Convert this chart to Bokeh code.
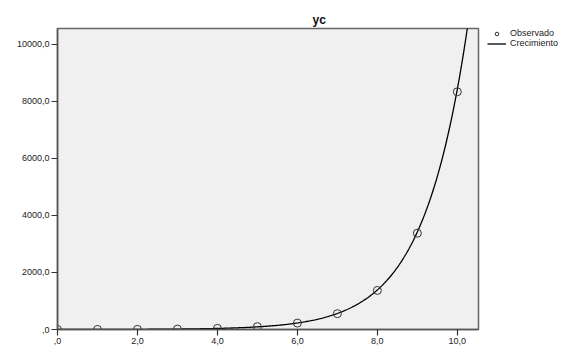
import numpy as np
from bokeh.plotting import figure
from bokeh.models import (ColumnDataSource, Range1d, FixedTicker, LinearAxis,
                          Legend, LegendItem)
from bokeh.embed import file_html
from bokeh.resources import INLINE

# ---- data ----
x_obs = [0, 1, 2, 3, 4, 5, 6, 7, 8, 9, 10]
y_obs = [1, 2.5, 6, 15, 40, 100, 225, 555, 1370, 3380, 8340]
x_ticks = [0, 2, 4, 6, 8, 10]
x_tick_labels = [",0", "2,0", "4,0", "6,0", "8,0", "10,0"]
y_ticks = [0, 2000, 4000, 6000, 8000, 10000]
y_tick_labels = [",0", "2000,0", "4000,0", "6000,0", "8000,0", "10000,0"]
title_text = "yc"
series_names = ["Observado", "Crecimiento"]
x_limits = (0, 10.53)
y_limits = (0, 10560)

# growth model fitted to the observed data: ln(y) = b0 + b1*x
b1, b0 = np.polyfit(np.array(x_obs, float), np.log(np.array(y_obs, float)), 1)
x_fit = np.linspace(x_limits[0], x_limits[1], 400)
y_fit = np.exp(b0 + b1 * x_fit)

FONT = "Liberation Sans"

p = figure(frame_width=421, frame_height=301, output_backend="svg",
           toolbar_location=None,
           x_range=Range1d(*x_limits), y_range=Range1d(*y_limits),
           x_axis_type=None, y_axis_type=None,
           min_border_left=57, min_border_right=73,
           min_border_top=28, min_border_bottom=0)
p.background_fill_color = "#f0f0f0"
p.border_fill_color = "white"
p.outline_line_color = "#666666"
p.outline_line_width = 1.5
p.xgrid.visible = False
p.ygrid.visible = False

# title
p.title.text = title_text
p.title.text_font = FONT
p.title.text_font_size = "12px"
p.title.text_font_style = "bold"
p.title.text_color = "#111111"
p.title.align = "left"
p.title.offset = 255
p.title.standoff = 3

# axes
yax = LinearAxis(ticker=FixedTicker(ticks=y_ticks),
                 major_label_overrides={t: l for t, l in zip(y_ticks, y_tick_labels)})
xax = LinearAxis(ticker=FixedTicker(ticks=x_ticks),
                 major_label_overrides={t: l for t, l in zip(x_ticks, x_tick_labels)})
for ax in (xax, yax):
    ax.axis_line_color = "#555555"
    ax.axis_line_width = 1.5
    ax.major_tick_line_color = "#333333"
    ax.major_tick_line_width = 1.2
    ax.major_tick_in = 0
    ax.major_tick_out = 6
    ax.minor_tick_line_color = None
    ax.major_label_text_font = FONT
    ax.major_label_text_font_size = "9px"
    ax.major_label_text_color = "#222222"
    ax.major_label_standoff = 2
p.add_layout(yax, "left")
p.add_layout(xax, "below")

src_obs = ColumnDataSource(dict(x=x_obs, y=y_obs))
src_fit = ColumnDataSource(dict(x=x_fit, y=y_fit))

r_fit = p.line("x", "y", source=src_fit, line_color="black", line_width=1.3)
r_obs = p.scatter("x", "y", source=src_obs, marker="circle", size=8,
                  fill_color=None, line_color="#333333", line_width=1)

legend = Legend(items=[LegendItem(label=series_names[0], renderers=[r_obs]),
                       LegendItem(label=series_names[1], renderers=[r_fit])],
                location=(9, 281), orientation="vertical",
                label_text_font=FONT, label_text_font_size="9px",
                label_text_color="#222222",
                glyph_width=19, glyph_height=9, label_height=9,
                label_standoff=4, spacing=0, padding=0, margin=0,
                background_fill_alpha=0, border_line_color=None)
p.add_layout(legend, "right")

open("out.html", "w").write(file_html(p, INLINE))
